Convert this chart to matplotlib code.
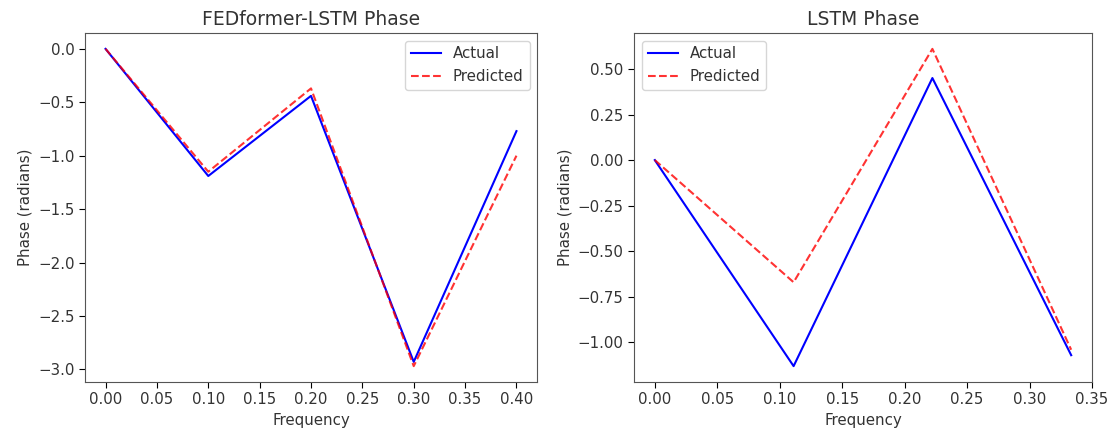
import numpy as np
import matplotlib
matplotlib.use('Agg')
import matplotlib.pyplot as plt

# FEDformer-LSTM panel
fed_freq = [0.0, 0.1, 0.2, 0.3, 0.4]
fed_actual = [0.0, -1.19, -0.44, -2.93, -0.77]
fed_pred = [0.0, -1.15, -0.37, -2.97, -1.00]

# LSTM panel
lstm_freq = [0.0, 1 / 9, 2 / 9, 3 / 9]
lstm_actual = [0.0, -1.13, 0.45, -1.07]
lstm_pred = [0.0, -0.67, 0.61, -1.04]

plt.rcParams['font.size'] = 10.8
plt.rcParams['lines.linewidth'] = 1.5
plt.rcParams['xtick.major.size'] = 4
plt.rcParams['ytick.major.size'] = 4
plt.rcParams['text.color'] = '#333333'
plt.rcParams['axes.labelcolor'] = '#333333'
plt.rcParams['xtick.labelcolor'] = '#333333'
plt.rcParams['ytick.labelcolor'] = '#333333'

fig, axes = plt.subplots(nrows=1, ncols=2, figsize=(11.12, 4.32), dpi=100)
axes[0].set_position([85 / 1112, 50 / 432, 452 / 1112, 349 / 432])
axes[1].set_position([634 / 1112, 50 / 432, 458 / 1112, 349 / 432])

axes[0].plot(fed_freq, fed_actual, 'b-', label='Actual')
axes[0].plot(fed_freq, fed_pred, 'r--', label='Predicted', alpha=0.8)
axes[0].set_title('FEDformer-LSTM Phase', fontsize=13.5)
axes[0].set_xlabel('Frequency')
axes[0].set_ylabel('Phase (radians)')
axes[0].legend(loc='upper right')

axes[1].plot(lstm_freq, lstm_actual, 'b-', label='Actual')
axes[1].plot(lstm_freq, lstm_pred, 'r--', label='Predicted', alpha=0.8)
axes[1].set_title('LSTM Phase', fontsize=13.5)
axes[1].set_xlabel('Frequency')
axes[1].set_ylabel('Phase (radians)')
axes[1].set_xticks(np.arange(0, 0.36, 0.05))
axes[1].legend(loc='upper left')

for ax in axes:
    for s in ax.spines.values():
        s.set_color('#555555')

fig.savefig('out.png', dpi=100)
